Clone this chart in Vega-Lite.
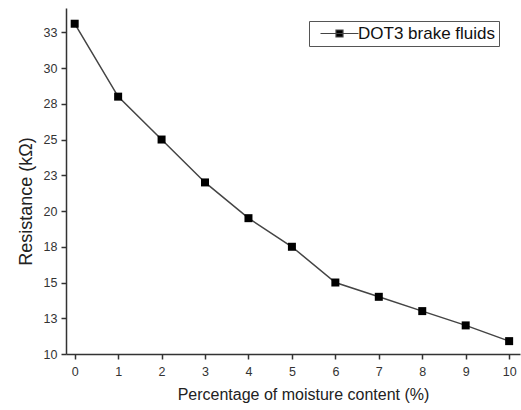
{
  "$schema": "https://vega.github.io/schema/vega-lite/v6.json",
  "width": 454,
  "height": 346,
  "autosize": {"type": "none"},
  "padding": {"left": 66, "top": 8, "right": 1, "bottom": 56},
  "background": "white",
  "config": {
    "view": {"stroke": null},
    "font": "Liberation Sans",
    "axis": {
      "grid": false,
      "domainColor": "#333",
      "domainWidth": 1.5,
      "tickColor": "#333",
      "tickWidth": 1.5,
      "tickSize": 5,
      "labelFont": "Liberation Sans",
      "labelFontSize": 12.5,
      "labelColor": "#333",
      "titleFont": "Liberation Sans",
      "titleFontWeight": "normal",
      "titleColor": "#222"
    }
  },
  "data": {
    "values": [
      {"moisture": 0, "resistance": 33.1, "series": "DOT3 brake fluids"},
      {"moisture": 1, "resistance": 28.0, "series": "DOT3 brake fluids"},
      {"moisture": 2, "resistance": 25.0, "series": "DOT3 brake fluids"},
      {"moisture": 3, "resistance": 22.0, "series": "DOT3 brake fluids"},
      {"moisture": 4, "resistance": 19.5, "series": "DOT3 brake fluids"},
      {"moisture": 5, "resistance": 17.5, "series": "DOT3 brake fluids"},
      {"moisture": 6, "resistance": 15.0, "series": "DOT3 brake fluids"},
      {"moisture": 7, "resistance": 14.0, "series": "DOT3 brake fluids"},
      {"moisture": 8, "resistance": 13.0, "series": "DOT3 brake fluids"},
      {"moisture": 9, "resistance": 12.0, "series": "DOT3 brake fluids"},
      {"moisture": 10, "resistance": 10.9, "series": "DOT3 brake fluids"}
    ]
  },
  "encoding": {
    "x": {
      "field": "moisture",
      "type": "quantitative",
      "scale": {"domain": [-0.2, 10.25], "nice": false, "zero": false},
      "axis": {
        "title": "Percentage of moisture content (%)",
        "titleFontSize": 16,
        "titleX": 237,
        "values": [0, 1, 2, 3, 4, 5, 6, 7, 8, 9, 10],
        "format": "d",
        "labelPadding": 6,
        "titlePadding": 9
      }
    },
    "y": {
      "field": "resistance",
      "type": "quantitative",
      "scale": {"domain": [10, 34.2], "nice": false, "zero": false},
      "axis": {
        "title": "Resistance (kΩ)",
        "titleFontSize": 18,
        "titleY": 193,
        "values": [10, 12.5, 15, 17.5, 20, 22.5, 25, 27.5, 30, 32.5],
        "format": ".0f",
        "labelPadding": 4,
        "titlePadding": 8
      }
    }
  },
  "layer": [
    {
      "mark": {"type": "line", "color": "#444", "strokeWidth": 1.5}
    },
    {
      "mark": {"type": "point", "shape": "square", "filled": true, "size": 64, "opacity": 1},
      "encoding": {
        "color": {
          "field": "series",
          "type": "nominal",
          "scale": {"range": ["#000000"]},
          "legend": {
            "title": null,
            "orient": "none",
            "legendX": 243,
            "legendY": 13,
            "symbolType": "M-3.8,0H3.8M-0.7,-0.7H0.7V0.7H-0.7Z",
            "symbolSize": 100,
            "symbolOffset": 18,
            "symbolStrokeWidth": 1.2,
            "symbolStrokeColor": "#444",
            "symbolFillColor": "#000",
            "labelFont": "Liberation Sans",
            "labelFontSize": 17,
            "labelColor": "#111",
            "labelOffset": 10,
            "strokeColor": "#555",
            "padding": 4,
            "cornerRadius": 0
          }
        }
      }
    }
  ]
}
